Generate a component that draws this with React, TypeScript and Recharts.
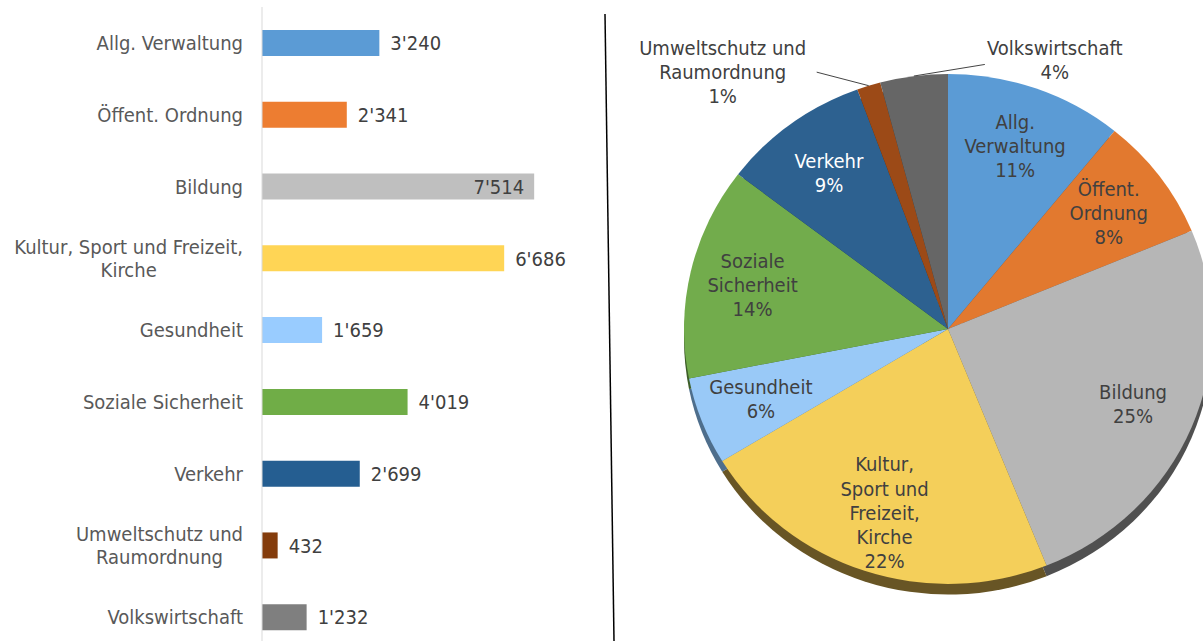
import React from 'react';
import { BarChart, Bar, XAxis, YAxis, Cell, LabelList, PieChart, Pie } from 'recharts';

// Ausgaben nach Funktion (in 1000 CHF)
const categories = [
  'Allg. Verwaltung',
  'Öffent. Ordnung',
  'Bildung',
  'Kultur, Sport und Freizeit, Kirche',
  'Gesundheit',
  'Soziale Sicherheit',
  'Verkehr',
  'Umweltschutz und Raumordnung',
  'Volkswirtschaft',
];
const amounts = [3240, 2341, 7514, 6686, 1659, 4019, 2699, 432, 1232];
const shareLabels = ['11%', '8%', '25%', '22%', '6%', '14%', '9%', '1%', '4%'];

const barColors = ['#5B9BD5', '#ED7D31', '#BFBFBF', '#FFD555', '#99CCFF', '#70AD47', '#255E91', '#843C0C', '#7F7F7F'];
const pieColors = ['#5B9BD5', '#E2792F', '#B6B6B6', '#F4CF5A', '#99C9F7', '#72AC4C', '#2D6190', '#9C4A17', '#666666'];
const pieDepthColors = ['#2F5678', '#7A3F16', '#505050', '#685525', '#4E6E8C', '#3D5E28', '#17344F', '#50250B', '#333333'];

const FONT = '"DejaVu Sans Condensed", "DejaVu Sans", sans-serif';
const FS = 20;
const RAD = Math.PI / 180;

let ctx: CanvasRenderingContext2D | null = null;
function textWidth(s: string) {
  if (!ctx) ctx = document.createElement('canvas').getContext('2d');
  if (!ctx) return s.length * 10.5;
  ctx.font = `${FS}px ${FONT}`;
  return ctx.measureText(s).width;
}

function wrap(s: string, max: number) {
  const lines: string[] = [];
  let cur = '';
  for (const w of s.split(' ')) {
    const t = cur ? cur + ' ' + w : w;
    if (cur && textWidth(t) > max) {
      lines.push(cur);
      cur = w;
    } else cur = t;
  }
  if (cur) lines.push(cur);
  return lines;
}

const fmt = (v: number) => String(v).replace(/\B(?=(\d{3})+(?!\d))/g, "'");

const barData = categories.map((name, i) => ({ name, value: amounts[i] }));
const pieData = categories.map((name, i) => ({ name, value: amounts[i] }));

const CategoryTick = (props: any) => {
  const { x, y, payload } = props;
  const lines = wrap(payload.value, 240);
  const w = Math.max(...lines.map(textWidth));
  const cxText = x - w / 2;
  return (
    <text x={cxText} y={y} textAnchor="middle" fill="#595959" fontSize={FS} fontFamily={FONT}>
      {lines.map((l, i) => (
        <tspan key={i} x={cxText} y={y + (i - (lines.length - 1) / 2) * 23} dy="0.36em">
          {l}
        </tspan>
      ))}
    </text>
  );
};

const BarValueLabel = (props: any) => {
  const { x, y, width, height, value } = props;
  const inside = value / 9000 > 0.8;
  return (
    <text
      x={inside ? x + width - 10 : x + width + 11}
      y={y + height / 2}
      dy="0.36em"
      textAnchor={inside ? 'end' : 'start'}
      fill="#404040"
      fontSize={FS}
      fontFamily={FONT}
    >
      {fmt(value)}
    </text>
  );
};

// where the small slices put their labels, relative to the slice edge
const outsideLabels: Record<number, { lx: number; ly: number; tx: number; ty: number; max: number }> = {
  7: { lx: -52, ly: -14, tx: -94, ty: 0, max: 200 },
  8: { lx: 71, ly: -12, tx: 70, ty: -5, max: 200 },
};

const renderPieLabel = (props: any) => {
  const { cx, cy, midAngle, outerRadius, index } = props;
  const cos = Math.cos(-midAngle * RAD);
  const sin = Math.sin(-midAngle * RAD);
  const out = outsideLabels[index];
  if (out) {
    const ex = cx + outerRadius * cos;
    const ey = cy + outerRadius * sin;
    const lx = ex + out.lx;
    const ly = ey + out.ly;
    const tx = lx + out.tx;
    const ty = ly + out.ty;
    const lines = [...wrap(categories[index], out.max), shareLabels[index]];
    return (
      <g>
        <line x1={ex} y1={ey} x2={lx} y2={ly} stroke="#404040" strokeWidth={1} />
        <text x={tx} y={ty} textAnchor="middle" fill="#404040" fontSize={FS} fontFamily={FONT}>
          {lines.map((l, i) => (
            <tspan key={i} x={tx} y={ty + (i - (lines.length - 1) / 2) * 25} dy="0.36em">
              {l}
            </tspan>
          ))}
        </text>
      </g>
    );
  }
  const r = outerRadius * 0.76;
  const x = cx + r * cos;
  const y = cy + r * sin;
  const lines = [...wrap(categories[index], 112), shareLabels[index]];
  return (
    <text x={x} y={y} textAnchor="middle" fill={index === 6 ? '#ffffff' : '#404040'} fontSize={FS} fontFamily={FONT}>
      {lines.map((l, i) => (
        <tspan key={i} x={x} y={y + (i - (lines.length - 1) / 2) * 25} dy="0.36em">
          {l}
        </tspan>
      ))}
    </text>
  );
};

export default function App() {
  return (
    <div style={{ position: 'relative', width: 1203, height: 641, overflow: 'hidden', background: '#fff' }}>
      <style>{`body{margin:0}`}</style>
      <div style={{ position: 'absolute', left: 0, top: 0 }}>
        <BarChart
          width={600}
          height={660}
          data={barData}
          layout="vertical"
          margin={{ top: 7, right: 12, bottom: 7, left: 0 }}
        >
          <XAxis type="number" domain={[0, 9000]} hide />
          <YAxis
            type="category"
            dataKey="name"
            width={262}
            interval={0}
            tickSize={0}
            tickMargin={19}
            tickLine={false}
            axisLine={{ stroke: '#D9D9D9' }}
            tick={<CategoryTick />}
          />
          <Bar dataKey="value" barSize={26} isAnimationActive={false}>
            {barData.map((_, i) => (
              <Cell key={i} fill={barColors[i]} />
            ))}
            <LabelList dataKey="value" content={<BarValueLabel />} />
          </Bar>
        </BarChart>
      </div>
      <div style={{ position: 'absolute', left: 620, top: 0, transform: 'scaleY(0.966)', transformOrigin: 'top left' }}>
        <PieChart width={700} height={680} margin={{ top: 0, right: 0, bottom: 0, left: 0 }}>
          <Pie
            data={pieData}
            dataKey="value"
            cx={328}
            cy={351.5}
            outerRadius={264}
            startAngle={90}
            endAngle={-270}
            stroke="none"
            isAnimationActive={false}
          >
            {pieData.map((_, i) => (
              <Cell key={i} fill={pieDepthColors[i]} />
            ))}
          </Pie>
          <Pie
            data={pieData}
            dataKey="value"
            cx={328}
            cy={340.5}
            outerRadius={264}
            startAngle={90}
            endAngle={-270}
            stroke="none"
            label={renderPieLabel}
            labelLine={false}
            isAnimationActive={false}
          >
            {pieData.map((_, i) => (
              <Cell key={i} fill={pieColors[i]} />
            ))}
          </Pie>
        </PieChart>
      </div>
      <svg width={1203} height={641} style={{ position: 'absolute', left: 0, top: 0, pointerEvents: 'none' }}>
        <line x1={605} y1={14} x2={614} y2={641} stroke="#000" strokeWidth={1.5} />
      </svg>
    </div>
  );
}
